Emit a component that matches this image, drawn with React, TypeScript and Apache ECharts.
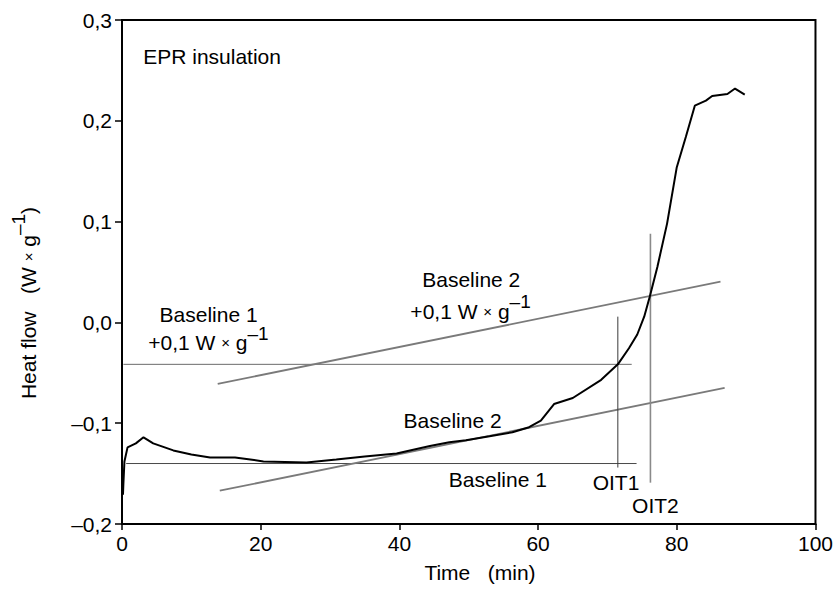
import React, { useEffect, useRef } from "react";
import * as echarts from "echarts";

// Measured DSC curve (time in min, heat flow in W/g)
const timeMin = [0.14, 0.2, 0.35, 0.8, 2.0, 3.1, 4.5, 7.4, 10.0, 12.7, 16.3, 18.5, 20.4, 26.6, 30.9, 35.0, 39.6, 44.4, 47.2, 49.6, 53.0, 56.3, 58.7, 60.4, 62.3, 65.0, 69.1, 71.5, 73.1, 74.3, 75.3, 76.1, 77.2, 78.6, 80.0, 81.3, 82.6, 84.2, 85.1, 87.3, 88.4, 89.8];
const heatFlow = [-0.171, -0.16, -0.138, -0.124, -0.12, -0.114, -0.12, -0.127, -0.131, -0.134, -0.134, -0.136, -0.138, -0.139, -0.136, -0.133, -0.13, -0.1226, -0.119, -0.117, -0.113, -0.109, -0.104, -0.0975, -0.081, -0.075, -0.057, -0.0416, -0.0257, -0.012, 0.0057, 0.0255, 0.055, 0.098, 0.154, 0.184, 0.215, 0.22, 0.2246, 0.2266, 0.232, 0.226];

// Construction lines
const baseline1X = [0.6, 74.2];
const baseline1Y = [-0.14, -0.14];
const baseline1UpX = [0.2, 73.5];
const baseline1UpY = [-0.0416, -0.0416];
const baseline2X = [14.1, 86.9];
const baseline2Y = [-0.167, -0.065];
const baseline2UpX = [13.8, 86.3];
const baseline2UpY = [-0.061, 0.0404];
const oit1X = [71.5, 71.5];
const oit1Y = [0.0057, -0.144];
const oit2X = [76.2, 76.2];
const oit2Y = [0.088, -0.159];

// Axis ticks
const xTicks = [0, 20, 40, 60, 80, 100];
const yTicks = [-0.2, -0.1, 0.0, 0.1, 0.2, 0.3];

// Annotation texts and anchors (data coordinates)
const labelTexts = [
  "{m|EPR insulation}",
  "{m|Baseline 1}",
  "{m|+0,1 W }{x|×}{m| g}{s|–1}",
  "{m|Baseline 2}",
  "{m|+0,1 W }{x|×}{m| g}{s|–1}",
  "{m|Baseline 2}",
  "{m|Baseline 1}",
  "{m|OIT1}",
  "{m|OIT2}",
];
const labelX = [3.06, 12.49, 12.46, 50.36, 50.26, 47.67, 54.19, 71.24, 76.92];
const labelY = [0.2633, 0.0083, -0.0204, 0.0426, 0.0113, -0.0978, -0.1554, -0.1588, -0.1812];
const labelAlign = ["left", "center", "center", "center", "center", "center", "center", "center", "center"];

const FONT = "'Liberation Sans', Arial, Helvetica, sans-serif";
const FS = 21;

const rich = {
  m: { fontSize: FS, fontFamily: FONT, color: "#000", lineHeight: 38 },
  x: { fontSize: 15, fontFamily: FONT, color: "#000", lineHeight: 38 },
  s: { fontSize: 19, fontFamily: FONT, color: "#000", lineHeight: 18, verticalAlign: "top" },
};

const NB = "\u00a0";

function zip(xs: number[], ys: number[]) {
  return xs.map((x, i) => [x, ys[i]]);
}

function fmtY(v: number) {
  const r = Math.round(v * 10) / 10;
  if (r === 0) return "0,0";
  const s = Math.abs(r).toFixed(1).replace(".", ",");
  return r < 0 ? "–" + s : s;
}

function lineSeries(xs: number[], ys: number[], color: string, width: number) {
  return {
    type: "line",
    data: zip(xs, ys),
    symbol: "none",
    silent: true,
    lineStyle: { color, width },
    z: 2,
  };
}

export default function App() {
  const ref = useRef<HTMLDivElement>(null);
  useEffect(() => {
    if (!ref.current) return;
    const chart = echarts.init(ref.current, undefined, { renderer: "svg" });
    const labelData = labelTexts.map((t, i) => ({
      value: [labelX[i], labelY[i]],
      label: {
        show: true,
        position: "inside",
        formatter: t,
        color: "#000",
        align: labelAlign[i],
        verticalAlign: "middle",
        rich,
      },
    }));
    chart.setOption({
      animation: false,
      backgroundColor: "#fff",
      grid: {
        left: 122,
        right: 19,
        top: 20,
        bottom: 66,
        show: true,
        borderColor: "#000",
        borderWidth: 2,
        backgroundColor: "transparent",
      },
      xAxis: {
        type: "value",
        min: xTicks[0],
        max: xTicks[xTicks.length - 1],
        interval: 20,
        axisLine: { show: true, onZero: false, lineStyle: { color: "#000", width: 2 } },
        axisTick: { show: true, length: 6, lineStyle: { color: "#000", width: 1.5 } },
        axisLabel: { color: "#000", fontSize: FS, fontFamily: FONT, margin: 9 },
        splitLine: { show: false },
      },
      yAxis: {
        type: "value",
        min: yTicks[0],
        max: yTicks[yTicks.length - 1],
        interval: 0.1,
        axisLine: { show: true, onZero: false, lineStyle: { color: "#000", width: 2 } },
        axisTick: { show: true, length: 7, lineStyle: { color: "#000", width: 1.5 } },
        axisLabel: { color: "#000", fontSize: FS, fontFamily: FONT, margin: 10, formatter: fmtY },
        splitLine: { show: false },
      },
      graphic: [
        {
          type: "text",
          x: 28,
          y: 303,
          rotation: Math.PI / 2,
          style: {
            text: `{m|Heat flow${NB}${NB}${NB}(W }{x|×}{m| g}{s|–1}{m|)}`,
            rich,
            align: "center",
            verticalAlign: "middle",
          },
        },
        {
          type: "text",
          x: 480,
          y: 572,
          style: {
            text: `Time${NB}${NB}${NB}(min)`,
            fontSize: FS,
            fontFamily: FONT,
            fill: "#000",
            align: "center",
            verticalAlign: "middle",
          },
        },
      ],
      series: [
        lineSeries(baseline1X, baseline1Y, "#4a4a4a", 1),
        lineSeries(baseline1UpX, baseline1UpY, "#6a6a6a", 1),
        lineSeries(baseline2X, baseline2Y, "#7a7a7a", 1.8),
        lineSeries(baseline2UpX, baseline2UpY, "#7a7a7a", 1.8),
        lineSeries(oit1X, oit1Y, "#3a3a3a", 1),
        lineSeries(oit2X, oit2Y, "#8a8a8a", 1.6),
        {
          type: "line",
          data: zip(timeMin, heatFlow),
          symbol: "none",
          silent: true,
          lineStyle: { color: "#000", width: 2 },
          z: 3,
        },
        {
          type: "scatter",
          data: labelData,
          symbolSize: 0,
          silent: true,
          itemStyle: { opacity: 1 },
          z: 4,
        },
      ],
    });
    return () => chart.dispose();
  }, []);
  return (
    <div
      ref={ref}
      style={{ position: "fixed", left: 0, top: 0, width: 836, height: 590 }}
    />
  );
}
